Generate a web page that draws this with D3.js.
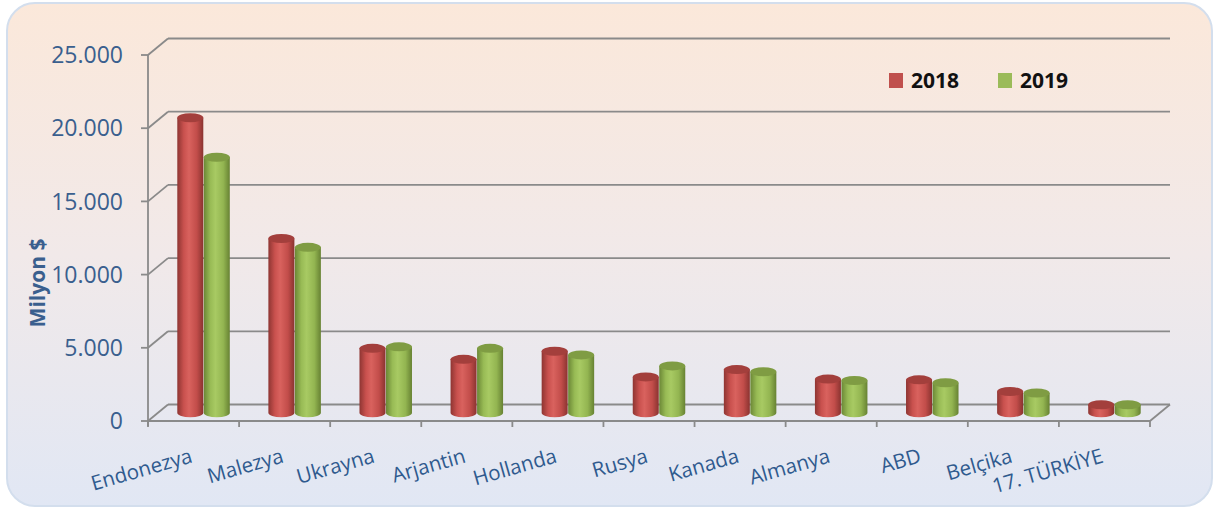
<!DOCTYPE html>
<html>
<head>
<meta charset="utf-8">
<script src="https://cdn.jsdelivr.net/npm/d3@7"></script>
<style>
  html, body { margin: 0; padding: 0; background: #fff; }
  svg { display: block; }
</style>
</head>
<body>
<div id="chart"></div>
<script>
var categories = ["Endonezya", "Malezya", "Ukrayna", "Arjantin", "Hollanda", "Rusya", "Kanada", "Almanya", "ABD", "Belçika", "17. TÜRKİYE"];
var values2018 = [20150, 11900, 4400, 3650, 4200, 2450, 2950, 2300, 2250, 1450, 550];
var values2019 = [17450, 11300, 4500, 4400, 3950, 3200, 2800, 2200, 2050, 1350, 550];
var years = ["2018", "2019"];
var yTicks = [0, 5000, 10000, 15000, 20000, 25000];

var W = 1217, H = 510;
var depth = { dx: 20, dy: -16.5 };   // back wall offset for the 3D look

var svg = d3.select("#chart").append("svg").attr("width", W).attr("height", H);
var defs = svg.append("defs");

// panel background
var bg = defs.append("linearGradient").attr("id", "bg").attr("x1", 0).attr("y1", 0).attr("x2", 0).attr("y2", 1);
bg.append("stop").attr("offset", "0%").attr("stop-color", "#fbe8da");
bg.append("stop").attr("offset", "50%").attr("stop-color", "#f1e9e9");
bg.append("stop").attr("offset", "100%").attr("stop-color", "#e1e7f4");

svg.append("rect")
   .attr("x", 7).attr("y", 3).attr("width", 1205).attr("height", 503)
   .attr("rx", 28).attr("ry", 28)
   .attr("fill", "url(#bg)").attr("stroke", "#d3deed").attr("stroke-width", 2);

// cylinder shading
var colors = {
  "2018": { side: ["#8e3532", "#c9514e", "#d9625e", "#c24d4a", "#8a3330"], top: "#a33f3c" },
  "2019": { side: ["#6b8736", "#98bb55", "#a8ca63", "#93b551", "#678233"], top: "#7f9c43" }
};
years.forEach(function(yr){
  var g = defs.append("linearGradient").attr("id", "cyl" + yr).attr("x1", 0).attr("y1", 0).attr("x2", 1).attr("y2", 0);
  var offs = [0, 0.25, 0.45, 0.75, 1];
  colors[yr].side.forEach(function(c, i){
    g.append("stop").attr("offset", offs[i]).attr("stop-color", c);
  });
});

// scales
var x = d3.scaleBand().domain(categories).range([148, 1150]).paddingInner(0).paddingOuter(0);
var y = d3.scaleLinear().domain([0, 25000]).range([421, 55]);
var inner = d3.scaleBand().domain(years).range([0, 53]);

var fmt = d3.formatLocale({ decimal: ",", thousands: ".", grouping: [3], currency: ["", "$"] }).format(",");

var gridColor = "#8a8a8a";

// back wall gridlines + left wall diagonals
var grid = svg.append("g");
grid.selectAll("line.h").data(yTicks).enter().append("line")
   .attr("x1", 148 + depth.dx).attr("x2", 1150 + depth.dx)
   .attr("y1", function(d){ return y(d) + depth.dy; })
   .attr("y2", function(d){ return y(d) + depth.dy; })
   .attr("stroke", gridColor).attr("stroke-width", 1.8);
grid.selectAll("line.d").data(yTicks).enter().append("line")
   .attr("x1", 148).attr("x2", 148 + depth.dx)
   .attr("y1", function(d){ return y(d); })
   .attr("y2", function(d){ return y(d) + depth.dy; })
   .attr("stroke", gridColor).attr("stroke-width", 1.8);

// floor front edge and right edge
grid.append("line").attr("x1", 148).attr("x2", 1150).attr("y1", y(0)).attr("y2", y(0))
   .attr("stroke", gridColor).attr("stroke-width", 1.8);
grid.append("line").attr("x1", 1150).attr("x2", 1150 + depth.dx).attr("y1", y(0)).attr("y2", y(0) + depth.dy)
   .attr("stroke", gridColor).attr("stroke-width", 1.8);

// y axis
grid.append("line").attr("x1", 148).attr("x2", 148).attr("y1", y(25000)).attr("y2", y(0) + 5)
   .attr("stroke", gridColor).attr("stroke-width", 1.8);
grid.selectAll("line.yt").data(yTicks).enter().append("line")
   .attr("x1", 141).attr("x2", 148)
   .attr("y1", function(d){ return y(d); }).attr("y2", function(d){ return y(d); })
   .attr("stroke", gridColor).attr("stroke-width", 1.8);

// x ticks at category boundaries
var bounds = categories.map(function(c){ return x(c); }).concat([1150]);
grid.selectAll("line.xt").data(bounds).enter().append("line")
   .attr("x1", function(d){ return d; }).attr("x2", function(d){ return d; })
   .attr("y1", y(0)).attr("y2", y(0) + 6)
   .attr("stroke", gridColor).attr("stroke-width", 1.8);

// y tick labels
svg.append("g").selectAll("text").data(yTicks).enter().append("text")
   .attr("x", 123).attr("y", function(d){ return y(d); })
   .attr("dy", "0.36em").attr("text-anchor", "end")
   .attr("font-family", "Open Sans").attr("font-size", 23)
   .attr("fill", "#3a5f8e")
   .text(function(d){ return fmt(d); });

// y title
svg.append("text")
   .attr("transform", "translate(45,283) rotate(-90)")
   .attr("text-anchor", "middle")
   .attr("font-family", "Open Sans").attr("font-weight", "bold").attr("font-size", 21)
   .attr("fill", "#3a5f8e")
   .text("Milyon $");

// x labels
svg.append("g").selectAll("text").data(categories).enter().append("text")
   .attr("transform", function(d){ return "translate(" + (x(d) + x.bandwidth() / 2) + ",462) rotate(-16)"; })
   .attr("text-anchor", "end")
   .attr("font-family", "Open Sans").attr("font-size", 20.5)
   .attr("fill", "#2f5a8e")
   .text(function(d){ return d; });

// bars (cylinders), placed at mid depth
var rx = 13, ry = 4.5;
var mid = { dx: depth.dx / 2, dy: depth.dy / 2 };
var rows = [];
categories.forEach(function(c, i){
  rows.push({ cat: c, yr: "2018", v: values2018[i] });
  rows.push({ cat: c, yr: "2019", v: values2019[i] });
});

var bars = svg.append("g").selectAll("g").data(rows).enter().append("g")
   .attr("transform", function(d){
     var cx = x(d.cat) + x.bandwidth() / 2 - 26.5 + inner(d.yr) + inner.bandwidth() / 2 + mid.dx;
     return "translate(" + cx + ",0)";
   });

bars.append("path")
   .attr("d", function(d){
     var top = y(d.v) + mid.dy, base = y(0) + mid.dy;
     return "M" + (-rx) + "," + top + " L" + (-rx) + "," + base +
            " A" + rx + "," + ry + " 0 0 0 " + rx + "," + base +
            " L" + rx + "," + top + " Z";
   })
   .attr("fill", function(d){ return "url(#cyl" + d.yr + ")"; });

bars.append("ellipse")
   .attr("cx", 0).attr("cy", function(d){ return y(d.v) + mid.dy; })
   .attr("rx", rx).attr("ry", ry)
   .attr("fill", function(d){ return colors[d.yr].top; });

// legend
var legend = svg.append("g").selectAll("g").data(years).enter().append("g")
   .attr("transform", function(d, i){ return "translate(" + (889 + i * 109) + ",73)"; });
legend.append("rect").attr("width", 14).attr("height", 15)
   .attr("fill", function(d){ return d === "2018" ? "#c0504d" : "#9bbb59"; });
legend.append("text").attr("x", 22).attr("y", 15)
   .attr("font-family", "Open Sans").attr("font-weight", "bold").attr("font-size", 21)
   .attr("fill", "#111")
   .text(function(d){ return d; });
</script>
</body>
</html>
